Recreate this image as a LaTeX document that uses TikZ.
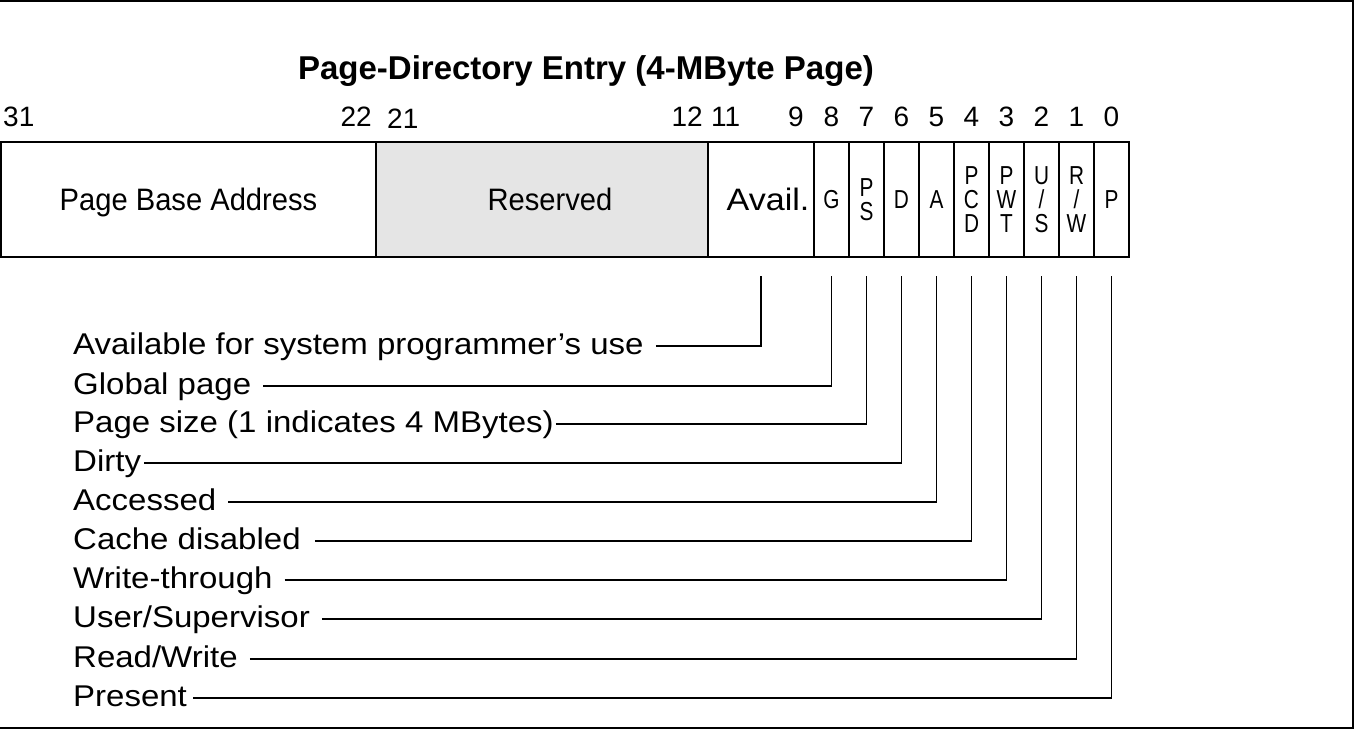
\documentclass[tikz,border=0pt]{standalone}
\usepackage{fontspec}
\setmainfont{Liberation Sans}
\newfontfamily\widefont{Liberation Sans}[FakeStretch=1.1]
\newfontfamily\narrowfont{Liberation Sans}[FakeStretch=0.94]
\newfontfamily\thinfont{Liberation Sans}[FakeStretch=0.8]
\usetikzlibrary{calc}

\begin{document}
\begin{tikzpicture}
    [x=1pt, y=-1pt,
    box/.style={rectangle, draw=black, line width=1.5pt, minimum height=115pt, inner sep=0pt},
    cell/.style={box, text height=22pt, text depth=0pt, font=\narrowfont\fontsize{31}{36}\selectfont},
    bitcell/.style={box, minimum width=35pt, align=center, font=\thinfont\fontsize{26}{24}\selectfont},
    onebit/.style={bitcell, text height=18pt, text depth=0pt},
    bitnum/.style={anchor=base, inner sep=0pt, font=\fontsize{28}{32}\selectfont},
    field/.style={anchor=base west, inner sep=0pt, font=\widefont\fontsize{30}{36}\selectfont},
    leader/.style={line width=1.5pt}]
\useasboundingbox (0,0) rectangle (1355,730);
\draw[line width=2pt] (-10,1) -| (1353,728) -- (-10,728);
\node[anchor=base, font=\bfseries\fontsize{33}{38}\selectfont] (title) at (586,80) {Page-Directory Entry (4-MByte Page)};
% register fields
\node[cell, minimum width=375pt] (base) at (188.5,199.5) {Page Base Address};
\node[cell, minimum width=332pt, fill=gray!20] (res) at (542,199.5) {\hspace{16pt}Reserved};
\node[cell, minimum width=106pt, font=\widefont\fontsize{31}{36}\selectfont] (avail) at (761,199.5) {\hspace{14pt}Avail.};
\node[onebit] (g) at (831.5,199.5) {G};
\node[bitcell] (ps) at (866.5,199.5) {P\\S};
\node[onebit] (d) at (901.5,199.5) {D};
\node[onebit] (a) at (936.5,199.5) {A};
\node[bitcell] (pcd) at (971.5,199.5) {P\\C\\D};
\node[bitcell] (pwt) at (1006.5,199.5) {P\\W\\T};
\node[bitcell] (us) at (1041.5,199.5) {U\\/\\S};
\node[bitcell] (rw) at (1076.5,199.5) {R\\/\\W};
\node[onebit] (p) at (1111.5,199.5) {P};
% bit numbers
\coordinate (numline) at (0,127);
\node[bitnum, anchor=base west] (n31) at (3,127) {31};
\node[bitnum, anchor=base east] (n22) at (372,127) {22};
\node[bitnum, anchor=base west] (n21) at (387,129) {21};
\node[bitnum, anchor=base east] (n12) at (703,127) {12};
\node[bitnum, anchor=base west] (n11) at (711,127) {11};
\node[bitnum, anchor=base east] (n9) at (804,127) {9};
\node[bitnum] (n8) at (g |- numline) {8};
\node[bitnum] (n7) at (ps |- numline) {7};
\node[bitnum] (n6) at (d |- numline) {6};
\node[bitnum] (n5) at (a |- numline) {5};
\node[bitnum] (n4) at (pcd |- numline) {4};
\node[bitnum] (n3) at (pwt |- numline) {3};
\node[bitnum] (n2) at (us |- numline) {2};
\node[bitnum] (n1) at (rw |- numline) {1};
\node[bitnum] (n0) at (p |- numline) {0};
% field descriptions, leader at mid height of the text
\node[field] (lavail) at (73,354) {Available for system programmer’s use};
\node[field] (lg) at (73,394) {Global page};
\node[field] (lps) at (73,432) {Page size (1 indicates 4 MBytes)};
\node[field] (ld) at (73,471) {Dirty};
\node[field] (la) at (73,510) {Accessed};
\node[field] (lpcd) at (73,549) {Cache disabled};
\node[field] (lpwt) at (73,588) {Write-through};
\node[field] (lus) at (73,627) {User/Supervisor};
\node[field] (lrw) at (73,667) {Read/Write};
\node[field] (lp) at (73,706) {Present};
\draw[leader] ([xshift=12pt,yshift=8pt]lavail.base east) -| ([yshift=-18pt]avail.south);
\draw[leader] ([xshift=12pt,yshift=8pt]lg.base east) -| ([yshift=-18pt]g.south);
\draw[leader] ([xshift=2pt,yshift=8pt]lps.base east) -| ([yshift=-18pt]ps.south);
\draw[leader] ([xshift=3pt,yshift=8pt]ld.base east) -| ([yshift=-18pt]d.south);
\draw[leader] ([xshift=12pt,yshift=8pt]la.base east) -| ([yshift=-18pt]a.south);
\draw[leader] ([xshift=14pt,yshift=8pt]lpcd.base east) -| ([yshift=-18pt]pcd.south);
\draw[leader] ([xshift=12pt,yshift=8pt]lpwt.base east) -| ([yshift=-18pt]pwt.south);
\draw[leader] ([xshift=12pt,yshift=8pt]lus.base east) -| ([yshift=-18pt]us.south);
\draw[leader] ([xshift=12pt,yshift=8pt]lrw.base east) -| ([yshift=-18pt]rw.south);
\draw[leader] ([xshift=6pt,yshift=8pt]lp.base east) -| ([yshift=-18pt]p.south);
\end{tikzpicture}
\end{document}
